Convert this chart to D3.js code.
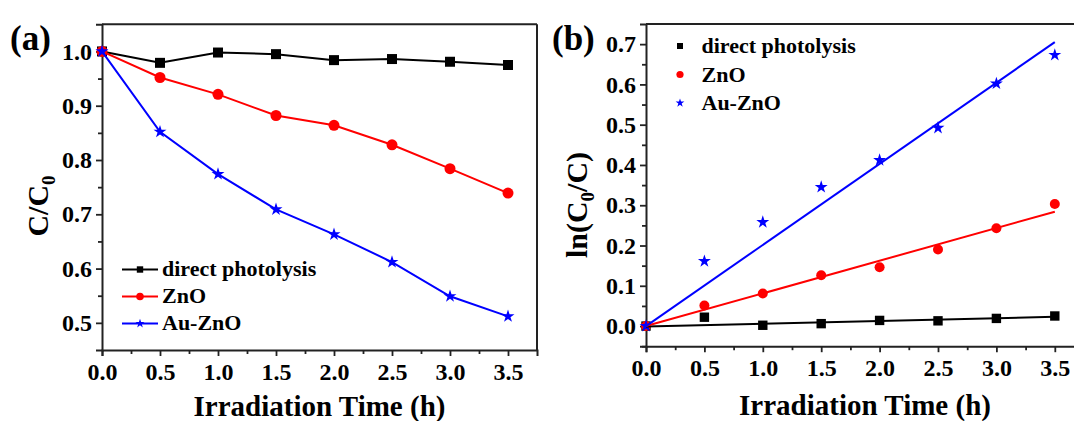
<!DOCTYPE html>
<html>
<head>
<meta charset="utf-8">
<script src="https://cdn.jsdelivr.net/npm/d3@7"></script>
<style>
  html, body { margin: 0; padding: 0; background: #fff; }
  svg { display: block; }
  svg text { font-family: "Liberation Serif", serif !important; font-weight: bold; fill: #000; }
</style>
</head>
<body>
<svg id="chart" width="1074" height="421"></svg>
<script>
// ---------------- data ----------------
const time = [0, 0.5, 1.0, 1.5, 2.0, 2.5, 3.0, 3.5];
const seriesNames = ["direct photolysis", "ZnO", "Au-ZnO"];
const seriesColors = ["#000000", "#ff0000", "#0000ff"];
const seriesSymbols = ["square", "circle", "star"];

// panel (a): C/C0
const photolysisC = [1.000, 0.979, 0.998, 0.995, 0.984, 0.986, 0.981, 0.975];
const znoC        = [1.000, 0.952, 0.921, 0.882, 0.864, 0.828, 0.784, 0.739];
const auZnoC      = [1.000, 0.852, 0.774, 0.709, 0.663, 0.612, 0.549, 0.512];

// panel (b): ln(C0/C)
const photolysisLn = [0.000, 0.022, 0.002, 0.006, 0.014, 0.013, 0.019, 0.025];
const znoLn        = [0.000, 0.051, 0.081, 0.126, 0.146, 0.190, 0.243, 0.303];
const auZnoLn      = [0.000, 0.161, 0.258, 0.345, 0.412, 0.492, 0.602, 0.673];

// linear fit lines of panel (b), read at t = 0 and t = 3.5
const fitTime       = [0, 3.5];
const fitPhotolysis = [-0.001, 0.023];
const fitZnO        = [0.000, 0.284];
const fitAuZnO      = [0.000, 0.705];

const xTicksMajor = [0, 0.5, 1.0, 1.5, 2.0, 2.5, 3.0, 3.5];
const xTicksMinor = [0.25, 0.75, 1.25, 1.75, 2.25, 2.75, 3.25];
const yTicksA      = [0.5, 0.6, 0.7, 0.8, 0.9, 1.0];
const yTicksAMinor = [0.55, 0.65, 0.75, 0.85, 0.95];
const yTicksB      = [0.0, 0.1, 0.2, 0.3, 0.4, 0.5, 0.6, 0.7];
const yTicksBMinor = [-0.05, 0.05, 0.15, 0.25, 0.35, 0.45, 0.55, 0.65];

// ---------------- drawing ----------------
const svg = d3.select("#chart");
const axisColor = "#222";
const FONT = "Liberation Serif";

function symbolPath(kind, r) {
  let type, size;
  if (kind === "square") { type = d3.symbolSquare; size = (2 * r) * (2 * r); }
  else if (kind === "circle") { type = d3.symbolCircle; size = Math.PI * r * r; }
  else { type = d3.symbolStar; size = (r * r) / 0.8908130915292852; }
  return d3.symbol().type(type).size(size)();
}

function drawAxes(g, x, y, yMajor, yMinor) {
  const [x0, x1] = x.range();
  const [yb, yt] = y.range();
  g.append("g").attr("transform", `translate(0,${yb})`)
    .call(d3.axisBottom(x).tickValues(xTicksMajor).tickFormat(d3.format(".1f")).tickSize(6).tickPadding(7));
  g.append("g").attr("transform", `translate(0,${yb})`)
    .call(d3.axisBottom(x).tickValues(xTicksMinor).tickFormat("").tickSize(4))
    .call(s => s.select(".domain").remove());
  g.append("g").attr("transform", `translate(${x0},0)`)
    .call(d3.axisLeft(y).tickValues(yMajor).tickFormat(d3.format(".1f")).tickSize(6).tickPadding(4));
  g.append("g").attr("transform", `translate(${x0},0)`)
    .call(d3.axisLeft(y).tickValues(yMinor).tickFormat("").tickSize(4))
    .call(s => s.select(".domain").remove());
  g.selectAll("g").attr("font-family", FONT);
  g.selectAll(".domain").attr("stroke", axisColor).attr("stroke-width", 2);
  g.selectAll(".tick line").attr("stroke", axisColor).attr("stroke-width", 1.8);
  g.selectAll(".tick text").attr("font-size", 24).attr("font-family", FONT)
    .attr("font-weight", "bold").attr("fill", "#000");
  g.append("line").attr("x1", x0).attr("x2", x1).attr("y1", yt).attr("y2", yt)
    .attr("stroke", axisColor).attr("stroke-width", 2);
  g.append("line").attr("x1", x1).attr("x2", x1).attr("y1", yt).attr("y2", yb)
    .attr("stroke", axisColor).attr("stroke-width", 2);
}

// ===== Panel (a) =====
{
  const x = d3.scaleLinear().domain([0, 3.75]).range([102, 537]);
  const y = d3.scaleLinear().domain([0.45, 1.05]).range([350, 24.3]);
  const g = svg.append("g");
  drawAxes(g, x, y, yTicksA, yTicksAMinor);

  const data = [photolysisC, znoC, auZnoC];
  const radii = [5.0, 5.5, 6.8];
  const line = d3.line().x((d, i) => x(time[i])).y(d => y(d));
  data.forEach((vals, k) => {
    g.append("path").attr("d", line(vals)).attr("fill", "none")
      .attr("stroke", seriesColors[k]).attr("stroke-width", 2);
    g.selectAll(null).data(vals).enter().append("path")
      .attr("d", symbolPath(seriesSymbols[k], radii[k]))
      .attr("transform", (d, i) => `translate(${x(time[i])},${y(d)})`)
      .attr("fill", seriesColors[k]);
  });

  const legR = [3.2, 3.8, 4.8];
  seriesNames.forEach((name, k) => {
    const cy = 269.5 + k * 27;
    g.append("line").attr("x1", 122).attr("x2", 158).attr("y1", cy).attr("y2", cy)
      .attr("stroke", seriesColors[k]).attr("stroke-width", 2);
    g.append("path").attr("d", symbolPath(seriesSymbols[k], legR[k]))
      .attr("transform", `translate(140,${cy})`).attr("fill", seriesColors[k]);
    g.append("text").attr("x", 162).attr("y", cy + 6.5).attr("font-size", 22)
      .attr("font-family", FONT).text(name);
  });

  svg.append("text").attr("x", 10).attr("y", 50).attr("font-size", 35).attr("font-family", FONT).text("(a)");
  svg.append("text").attr("x", 319.5).attr("y", 416).attr("text-anchor", "middle")
    .attr("font-size", 29).attr("font-family", FONT).text("Irradiation Time (h)");
  const yl = svg.append("text").attr("transform", "translate(48,206) rotate(-90)")
    .attr("text-anchor", "middle").attr("font-size", 30).attr("font-family", FONT);
  yl.append("tspan").text("C/C");
  yl.append("tspan").attr("font-size", 19).attr("dy", 7).text("0");
}

// ===== Panel (b) =====
{
  const x = d3.scaleLinear().domain([0, 3.75]).range([646, 1084]);
  const y = d3.scaleLinear().domain([-0.05, 0.75]).range([346.2, 24]);
  const g = svg.append("g");
  drawAxes(g, x, y, yTicksB, yTicksBMinor);

  const fits = [fitPhotolysis, fitZnO, fitAuZnO];
  const fitLine = d3.line().x((d, i) => x(fitTime[i])).y(d => y(d));
  const data = [photolysisLn, znoLn, auZnoLn];
  const radii = [4.7, 5.0, 6.8];
  data.forEach((vals, k) => {
    g.selectAll(null).data(vals).enter().append("path")
      .attr("d", symbolPath(seriesSymbols[k], radii[k]))
      .attr("transform", (d, i) => `translate(${x(time[i])},${y(d)})`)
      .attr("fill", seriesColors[k]);
  });
  fits.forEach((vals, k) => {
    g.append("path").attr("d", fitLine(vals)).attr("fill", "none")
      .attr("stroke", seriesColors[k]).attr("stroke-width", 2);
  });

  const legR = [3.0, 3.6, 4.6];
  seriesNames.forEach((name, k) => {
    const cy = 46 + k * 28.5;
    g.append("path").attr("d", symbolPath(seriesSymbols[k], legR[k]))
      .attr("transform", `translate(680,${cy})`).attr("fill", seriesColors[k]);
    g.append("text").attr("x", 701.5).attr("y", cy + 7).attr("font-size", 22)
      .attr("font-family", FONT).text(name);
  });

  svg.append("text").attr("x", 552).attr("y", 50).attr("font-size", 35).attr("font-family", FONT).text("(b)");
  svg.append("text").attr("x", 865).attr("y", 415).attr("text-anchor", "middle")
    .attr("font-size", 29).attr("font-family", FONT).text("Irradiation Time (h)");
  const yl = svg.append("text").attr("transform", "translate(587,205) rotate(-90)")
    .attr("text-anchor", "middle").attr("font-size", 30).attr("font-family", FONT);
  yl.append("tspan").text("ln(C");
  yl.append("tspan").attr("font-size", 19).attr("dy", 7).text("0");
  yl.append("tspan").attr("dy", -7).text("/C)");
}
</script>
</body>
</html>
